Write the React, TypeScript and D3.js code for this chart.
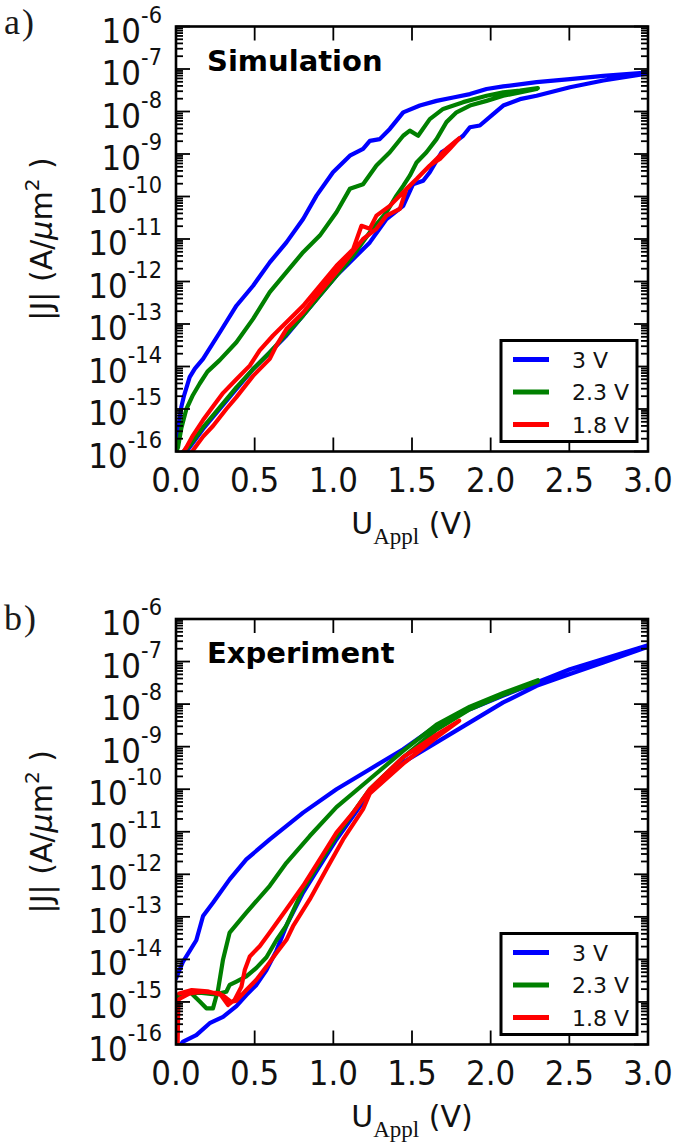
import React from "react";
import * as d3 from "d3";

// ---------- data: [U (V), log10 |J| (A/um^2)] ----------
const simBlueUp = [[0.0,-16.0],[0.01,-15.6],[0.02,-15.3],[0.034,-14.95],[0.05,-14.7],[0.087,-14.25],[0.12,-14.05],[0.172,-13.82],[0.278,-13.2],[0.384,-12.57],[0.49,-12.1],[0.596,-11.55],[0.702,-11.08],[0.808,-10.53],[0.893,-9.98],[0.998,-9.43],[1.105,-9.04],[1.189,-8.88],[1.232,-8.69],[1.295,-8.65],[1.359,-8.41],[1.444,-8.02],[1.55,-7.86],[1.656,-7.75],[1.762,-7.67],[1.868,-7.59],[1.974,-7.47],[2.08,-7.41],[2.292,-7.31],[2.504,-7.24],[2.716,-7.16],[2.97,-7.09],[3.0,-7.08]];
const simBlueDown = [[3.0,-7.1],[2.97,-7.12],[2.716,-7.27],[2.504,-7.43],[2.292,-7.63],[2.186,-7.71],[2.08,-7.86],[2.016,-8.06],[1.931,-8.33],[1.868,-8.37],[1.825,-8.57],[1.783,-8.69],[1.74,-8.84],[1.688,-8.96],[1.613,-9.43],[1.571,-9.63],[1.507,-9.71],[1.444,-10.22],[1.338,-10.53],[1.232,-11.08],[1.126,-11.47],[1.02,-11.86],[0.914,-12.33],[0.808,-12.8],[0.702,-13.27],[0.596,-13.67],[0.49,-14.06],[0.384,-14.53],[0.278,-15.0],[0.172,-15.47],[0.087,-15.9],[0.055,-16.05]];
const simGreenUp = [[0.0,-16.0],[0.013,-15.9],[0.034,-15.45],[0.066,-15.0],[0.108,-14.67],[0.151,-14.4],[0.2,-14.12],[0.278,-13.85],[0.384,-13.43],[0.49,-12.88],[0.596,-12.25],[0.702,-11.78],[0.808,-11.31],[0.914,-10.92],[1.02,-10.37],[1.105,-9.82],[1.189,-9.71],[1.274,-9.27],[1.359,-8.96],[1.444,-8.57],[1.486,-8.45],[1.539,-8.57],[1.613,-8.18],[1.698,-7.94],[1.825,-7.78],[1.974,-7.63],[2.08,-7.55],[2.186,-7.51],[2.3,-7.45]];
const simGreenDown = [[2.3,-7.45],[2.292,-7.47],[2.186,-7.55],[2.08,-7.63],[1.974,-7.75],[1.868,-7.86],[1.783,-8.02],[1.719,-8.25],[1.656,-8.65],[1.592,-8.96],[1.529,-9.2],[1.486,-9.51],[1.444,-9.75],[1.401,-9.98],[1.338,-10.37],[1.232,-10.84],[1.126,-11.39],[1.02,-11.86],[0.914,-12.33],[0.808,-12.8],[0.702,-13.24],[0.596,-13.67],[0.49,-14.06],[0.384,-14.49],[0.278,-14.96],[0.172,-15.43],[0.087,-15.86],[0.034,-16.05]];
const simRedUp = [[0.04,-16.05],[0.066,-15.9],[0.108,-15.62],[0.172,-15.26],[0.235,-14.94],[0.3,-14.62],[0.384,-14.3],[0.469,-13.98],[0.532,-13.62],[0.617,-13.27],[0.702,-12.96],[0.808,-12.57],[0.914,-12.1],[1.02,-11.63],[1.126,-11.24],[1.179,-10.69],[1.232,-10.76],[1.274,-10.45],[1.359,-10.22],[1.444,-9.9],[1.486,-9.75],[1.571,-9.43],[1.656,-9.12],[1.719,-8.88],[1.8,-8.63]];
const simRedDown = [[1.8,-8.63],[1.74,-8.88],[1.677,-9.12],[1.613,-9.27],[1.529,-9.59],[1.465,-9.82],[1.423,-10.29],[1.338,-10.45],[1.274,-10.76],[1.189,-11.0],[1.105,-11.39],[1.02,-11.78],[0.914,-12.25],[0.808,-12.73],[0.702,-13.12],[0.638,-13.51],[0.596,-13.82],[0.49,-14.22],[0.384,-14.72],[0.32,-15.0],[0.235,-15.4],[0.172,-15.65],[0.108,-15.97],[0.09,-16.05]];

const expBlueUp = [[0.0,-14.45],[0.045,-14.05],[0.129,-13.55],[0.172,-12.98],[0.235,-12.67],[0.341,-12.12],[0.447,-11.65],[0.596,-11.18],[0.808,-10.55],[1.02,-10.0],[1.232,-9.53],[1.444,-9.06],[1.656,-8.51],[1.868,-8.12],[2.08,-7.8],[2.292,-7.49],[2.504,-7.18],[2.716,-6.94],[3.0,-6.62]];
const expBlueDown = [[3.0,-6.65],[2.716,-7.02],[2.504,-7.29],[2.292,-7.57],[2.08,-7.96],[1.868,-8.43],[1.656,-8.9],[1.444,-9.37],[1.232,-10.08],[1.126,-10.63],[1.02,-11.18],[0.914,-11.8],[0.808,-12.43],[0.702,-13.2],[0.638,-13.8],[0.575,-14.25],[0.511,-14.6],[0.447,-14.84],[0.384,-15.1],[0.299,-15.35],[0.214,-15.5],[0.129,-15.78],[0.045,-15.93],[0.02,-16.05]];
const expGreenUp = [[0.005,-16.05],[0.006,-14.9],[0.013,-14.84],[0.087,-14.76],[0.151,-14.99],[0.193,-15.15],[0.235,-15.15],[0.267,-14.72],[0.299,-14.0],[0.341,-13.37],[0.447,-12.9],[0.596,-12.27],[0.702,-11.73],[0.85,-11.1],[1.02,-10.42],[1.232,-9.76],[1.444,-9.1],[1.656,-8.48],[1.868,-8.06],[2.08,-7.74],[2.3,-7.44]];
const expGreenDown = [[2.3,-7.47],[2.08,-7.78],[1.868,-8.12],[1.656,-8.6],[1.444,-9.25],[1.232,-10.0],[1.126,-10.55],[1.02,-11.1],[0.914,-11.72],[0.808,-12.35],[0.702,-13.2],[0.638,-13.55],[0.575,-13.95],[0.511,-14.2],[0.447,-14.4],[0.384,-14.52],[0.341,-14.6],[0.32,-14.76],[0.25,-14.82],[0.15,-14.78],[0.05,-14.8],[0.0,-14.85]];
const expRedUp = [[0.01,-16.1],[0.015,-14.95],[0.03,-14.91],[0.087,-14.8],[0.172,-14.76],[0.278,-14.8],[0.331,-15.07],[0.373,-14.95],[0.416,-14.64],[0.437,-14.25],[0.469,-13.93],[0.532,-13.69],[0.596,-13.37],[0.702,-12.82],[0.808,-12.27],[0.914,-11.65],[1.02,-11.02],[1.126,-10.55],[1.232,-10.0],[1.444,-9.25],[1.656,-8.72],[1.8,-8.39]];
const expRedDown = [[1.8,-8.39],[1.656,-8.78],[1.444,-9.4],[1.232,-10.1],[1.189,-10.47],[1.062,-11.18],[0.956,-11.88],[0.85,-12.59],[0.744,-13.22],[0.702,-13.54],[0.638,-13.85],[0.575,-14.17],[0.511,-14.48],[0.447,-14.72],[0.384,-14.97],[0.35,-15.0],[0.3,-14.85],[0.2,-14.75],[0.1,-14.72],[0.02,-14.8]];

const seriesNames = ["3 V", "2.3 V", "1.8 V"];
const seriesColors = ["#0000ff", "#008000", "#ff0000"];
const xTickValues = [0, 0.5, 1.0, 1.5, 2.0, 2.5, 3.0];
const xTickLabels = ["0.0", "0.5", "1.0", "1.5", "2.0", "2.5", "3.0"];
const yTickExps = [-16, -15, -14, -13, -12, -11, -10, -9, -8, -7, -6];
const panelTitles = ["Simulation", "Experiment"];
const panelLetters = ["a)", "b)"];

const simSeries = [simBlueUp.concat(simBlueDown), simGreenUp.concat(simGreenDown), simRedUp.concat(simRedDown)];
const expSeries = [expBlueUp.concat(expBlueDown), expGreenUp.concat(expGreenDown), expRedUp.concat(expRedDown)];

const W = 675, H = 1145;
const X0 = 176, X1 = 648;
const FONT = "DejaVu Sans";

function Panel({ top, bottom, series, title, letter, letterY, id }) {
  const x = d3.scaleLinear().domain([0, 3]).range([X0, X1]);
  const y = d3.scaleLog().domain([1e-16, 1e-6]).range([bottom, top]);
  const line = d3.line().x((d) => x(d[0])).y((d) => y(Math.pow(10, d[1])));
  const minor = [];
  for (const e of yTickExps.slice(0, -1)) for (let m = 2; m <= 9; m++) minor.push(m * Math.pow(10, e));
  const legY = bottom - 111;
  return (
    <g>
      <defs>
        <clipPath id={id}>
          <rect x={X0} y={top} width={X1 - X0} height={bottom - top} />
        </clipPath>
      </defs>
      <text x={4} y={letterY} fontFamily="Liberation Serif" fontSize={36} letterSpacing={2} fill="#1a1a1a">{letter}</text>
      <g clipPath={`url(#${id})`}>
        {series.map((s, i) => (
          <path key={i} d={line(s)} fill="none" stroke={seriesColors[i]} strokeWidth={4.2} strokeLinejoin="round" strokeLinecap="round" />
        ))}
      </g>
      {/* ticks */}
      <g stroke="#000" strokeWidth={1.8}>
        {yTickExps.map((e) => {
          const yy = y(Math.pow(10, e));
          return (
            <g key={e}>
              <line x1={X0} x2={X0 + 14} y1={yy} y2={yy} />
              <line x1={X1} x2={X1 - 14} y1={yy} y2={yy} />
            </g>
          );
        })}
        {minor.map((v, i) => {
          const yy = y(v);
          return (
            <g key={i}>
              <line x1={X0} x2={X0 + 7} y1={yy} y2={yy} />
              <line x1={X1} x2={X1 - 7} y1={yy} y2={yy} />
            </g>
          );
        })}
        {xTickValues.map((v) => (
          <g key={v}>
            <line x1={x(v)} x2={x(v)} y1={bottom} y2={bottom - 14} />
            <line x1={x(v)} x2={x(v)} y1={top} y2={top + 14} />
          </g>
        ))}
      </g>
      <rect x={X0} y={top} width={X1 - X0} height={bottom - top} fill="none" stroke="#000" strokeWidth={2.6} />
      {/* tick labels */}
      <g fontFamily={FONT} fill="#111">
        {yTickExps.map((e) => (
          <text key={e} transform={`translate(162,${y(Math.pow(10, e)) + 16}) scale(1,1.1)`} textAnchor="end" fontSize={31}>
            10<tspan fontSize={21} dy={-18}>{`-${-e}`}</tspan>
          </text>
        ))}
        {xTickValues.map((v, i) => (
          <text key={v} transform={`translate(${x(v)},${bottom + 40}) scale(1,1.1)`} textAnchor="middle" fontSize={31}>{xTickLabels[i]}</text>
        ))}
      </g>
      {/* axis labels */}
      <text x={412} y={bottom + 82} textAnchor="middle" fontFamily={FONT} fontSize={30} fill="#111">
        U<tspan fontFamily="Liberation Serif" fontSize={23} dy={10}>Appl</tspan>
        <tspan dy={-10}> (V)</tspan>
      </text>
      <text transform={`translate(52,${(top + bottom) / 2}) rotate(-90)`} textAnchor="middle" fontFamily={FONT} fontSize={30} fill="#111">
        |J| (A/<tspan fontStyle="italic">μ</tspan>m<tspan fontSize={20} dy={-13}>2</tspan><tspan dy={13}> )</tspan>
      </text>
      {/* title */}
      <text x={207} y={top + 44} fontFamily={FONT} fontWeight="bold" fontSize={29} fill="#000">{title}</text>
      {/* legend */}
      <rect x={501} y={legY} width={136} height={101} fill="#fff" stroke="#000" strokeWidth={3} />
      {seriesNames.map((n, i) => {
        const ly = legY + 19 + i * 32.5;
        return (
          <g key={n}>
            <line x1={513} x2={549} y1={ly} y2={ly} stroke={seriesColors[i]} strokeWidth={5} />
            <text x={572} y={ly + 8} fontFamily={FONT} fontSize={22} fill="#111">{n}</text>
          </g>
        );
      })}
    </g>
  );
}

export default function App() {
  return (
    <svg width={W} height={H} style={{ position: "absolute", left: 0, top: 0, background: "#fff" }}>
      <rect width={W} height={H} fill="#fff" />
      <Panel top={26.5} bottom={451.5} series={simSeries} title={panelTitles[0]} letter={panelLetters[0]} letterY={34} id="clipA" />
      <Panel top={619} bottom={1044.5} series={expSeries} title={panelTitles[1]} letter={panelLetters[1]} letterY={630} id="clipB" />
    </svg>
  );
}
